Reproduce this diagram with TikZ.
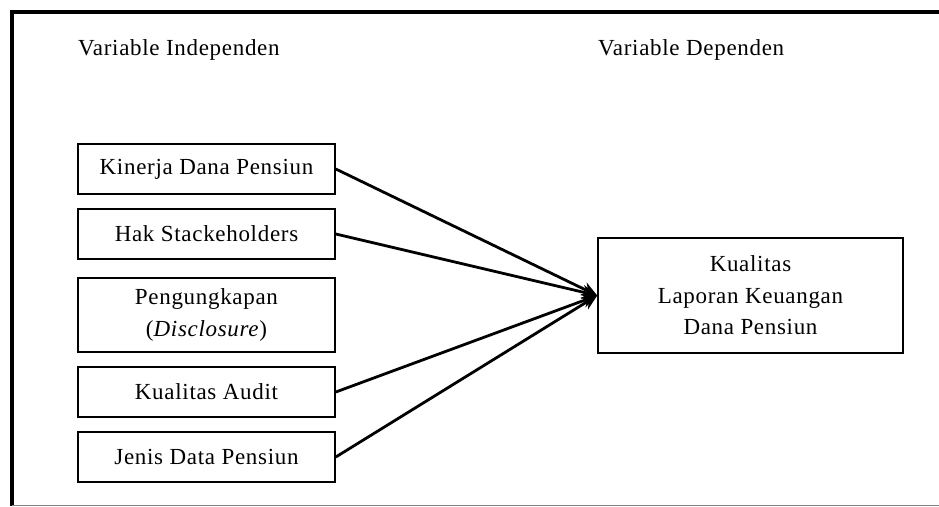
\documentclass[tikz,border=0pt]{standalone}
\usepackage{fontspec}
\setmainfont{Liberation Serif}[LetterSpace=3]
\usetikzlibrary{arrows.meta}
\tikzset{
  varbox/.style={draw, line width=1.6pt, minimum width=257pt, minimum height=50pt,
    align=center, inner sep=2pt, font=\fontsize{23}{31.5}\selectfont},
  depbox/.style={varbox, minimum width=305pt, minimum height=115pt},
  heading/.style={anchor=west, inner sep=0pt, font=\fontsize{23}{26}\selectfont},
  link/.style={line width=2.8pt, -{Stealth[length=15pt,width=14pt]}}
}
\begin{document}
\begin{tikzpicture}[x=1pt,y=-1pt]
      \useasboundingbox (0,0) rectangle (939,506);
      % frame
      \draw[line width=4pt] (10,12) -- (939,12);
      \draw[line width=3.5pt] (12,10) -- (12,506);
      \draw[gray, line width=1pt] (12,505) -- (939,505);
      \draw
        (78,50) node[heading] (indep){Variable Independen}
        (598,50) node[heading] (dep){Variable Dependen}
        (206.5,169) node[varbox] (kinerja){Kinerja Dana Pensiun}
        (206.5,234) node[varbox] (hak){Hak Stackeholders}
        (206.5,315) node[varbox, minimum height=74pt] (ungkap){Pengungkapan\\(\textit{Disclosure})}
        (206.5,392) node[varbox] (audit){Kualitas Audit}
        (206.5,457) node[varbox] (jenis){Jenis Data Pensiun}
        (750.5,295.5) node[depbox] (kualitas){Kualitas\\Laporan Keuangan\\Dana Pensiun};
      \begin{scope}[link]
        \draw (kinerja.east) to (kualitas.west);
        \draw (hak.east) to (kualitas.west);
        \draw (audit.east) to (kualitas.west);
        \draw (jenis.east) to (kualitas.west);
      \end{scope}
    \end{tikzpicture}
\end{document}
